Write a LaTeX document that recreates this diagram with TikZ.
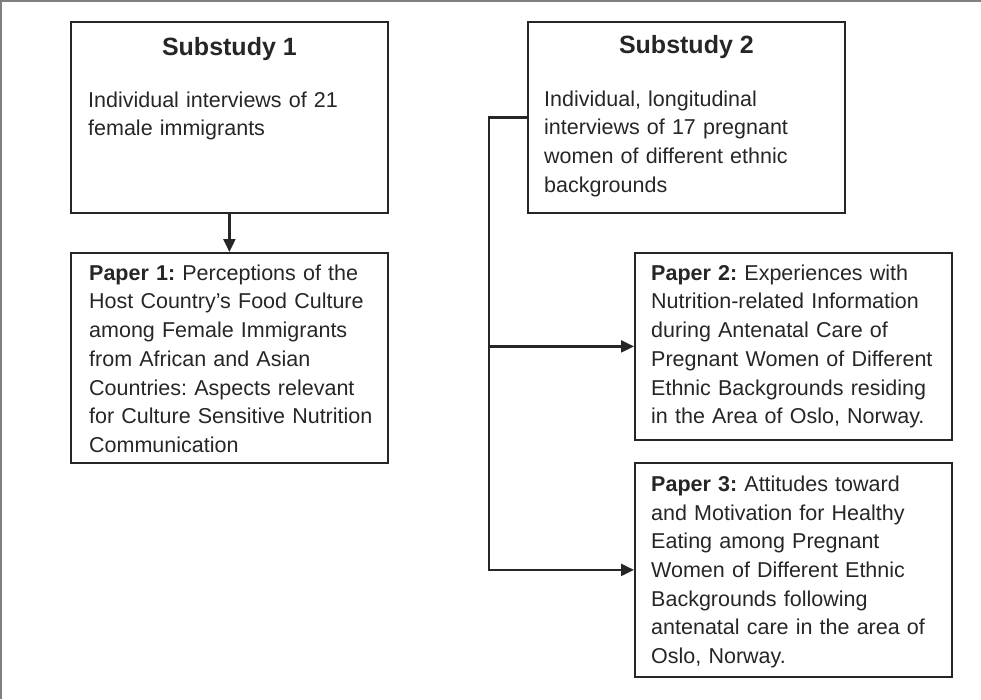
\documentclass[tikz,border=0pt]{standalone}
\usepackage{fontspec}
\setmainfont{Liberation Sans}
\frenchspacing
\usetikzlibrary{positioning, arrows.meta}
\definecolor{ink}{HTML}{262626}
\tikzset{>={Triangle[length=13pt,width=12pt]},x=1pt,y=-1pt,
box/.style={draw=ink,line width=1.8pt,anchor=north west,inner sep=0pt,minimum width=317pt},
link/.style={->,draw=ink,line width=2.2pt},
txt/.style={anchor=north west,inner sep=0pt,text=ink,text width=320pt,align=left,font=\fontsize{21.5pt}{28.7pt}\selectfont},
head/.style={anchor=north,inner sep=0pt,text=ink,text height=18pt,font=\bfseries\fontsize{25pt}{30pt}\selectfont}}

\begin{document}
\begin{tikzpicture}
\useasboundingbox (0,0) rectangle (981,699);
\draw[gray,line width=2pt] (1,699) -- (1,1) -- (981,1);
\node[box, minimum height=191pt] (sub1) at (70,21) {};
\node[box, minimum height=210pt] (pap1) at (70,252) {};
\node[box, minimum height=191pt] (sub2) at (527,21) {};
\node[box, minimum height=187pt] (pap2) at (634,252) {};
\node[box, minimum height=214pt] (pap3) at (634,462) {};
\node[head, below=16pt of sub1.north] (sub1head) {Substudy 1};
\node[head, below=14pt of sub2.north] (sub2head) {Substudy 2};
\node[txt, below right=66pt and 18pt of sub1.north west] (sub1text)
  {\strut Individual interviews of 21\\female immigrants};
\node[txt, below right=65pt and 17pt of sub2.north west] (sub2text)
  {\strut Individual, longitudinal\\interviews of 17 pregnant\\women of different ethnic\\backgrounds};
\node[txt, below right=8pt and 19pt of pap1.north west] (pap1text)
  {\strut\textbf{Paper 1:} Perceptions of the\\Host Country’s Food Culture\\among Female Immigrants\\from African and Asian\\Countries: Aspects relevant\\for Culture Sensitive Nutrition\\Communication};
\node[txt, below right=8pt and 17pt of pap2.north west] (pap2text)
  {\strut\textbf{Paper 2:} Experiences with\\Nutrition-related Information\\during Antenatal Care of\\Pregnant Women of Different\\Ethnic Backgrounds residing\\in the Area of Oslo, Norway.};
\node[txt, below right=9pt and 17pt of pap3.north west] (pap3text)
  {\strut\textbf{Paper 3:} Attitudes toward\\and Motivation for Healthy\\Eating among Pregnant\\Women of Different Ethnic\\Backgrounds following\\antenatal care in the area of\\Oslo, Norway.};
\coordinate[left=38pt of sub2.west] (split);
\draw[link] (sub1) -- (pap1);
\draw[link] (sub2.west) -- (split) |- (pap3.west);
\draw[link] (split |- pap2.west) -- (pap2.west);
\end{tikzpicture}
\end{document}
